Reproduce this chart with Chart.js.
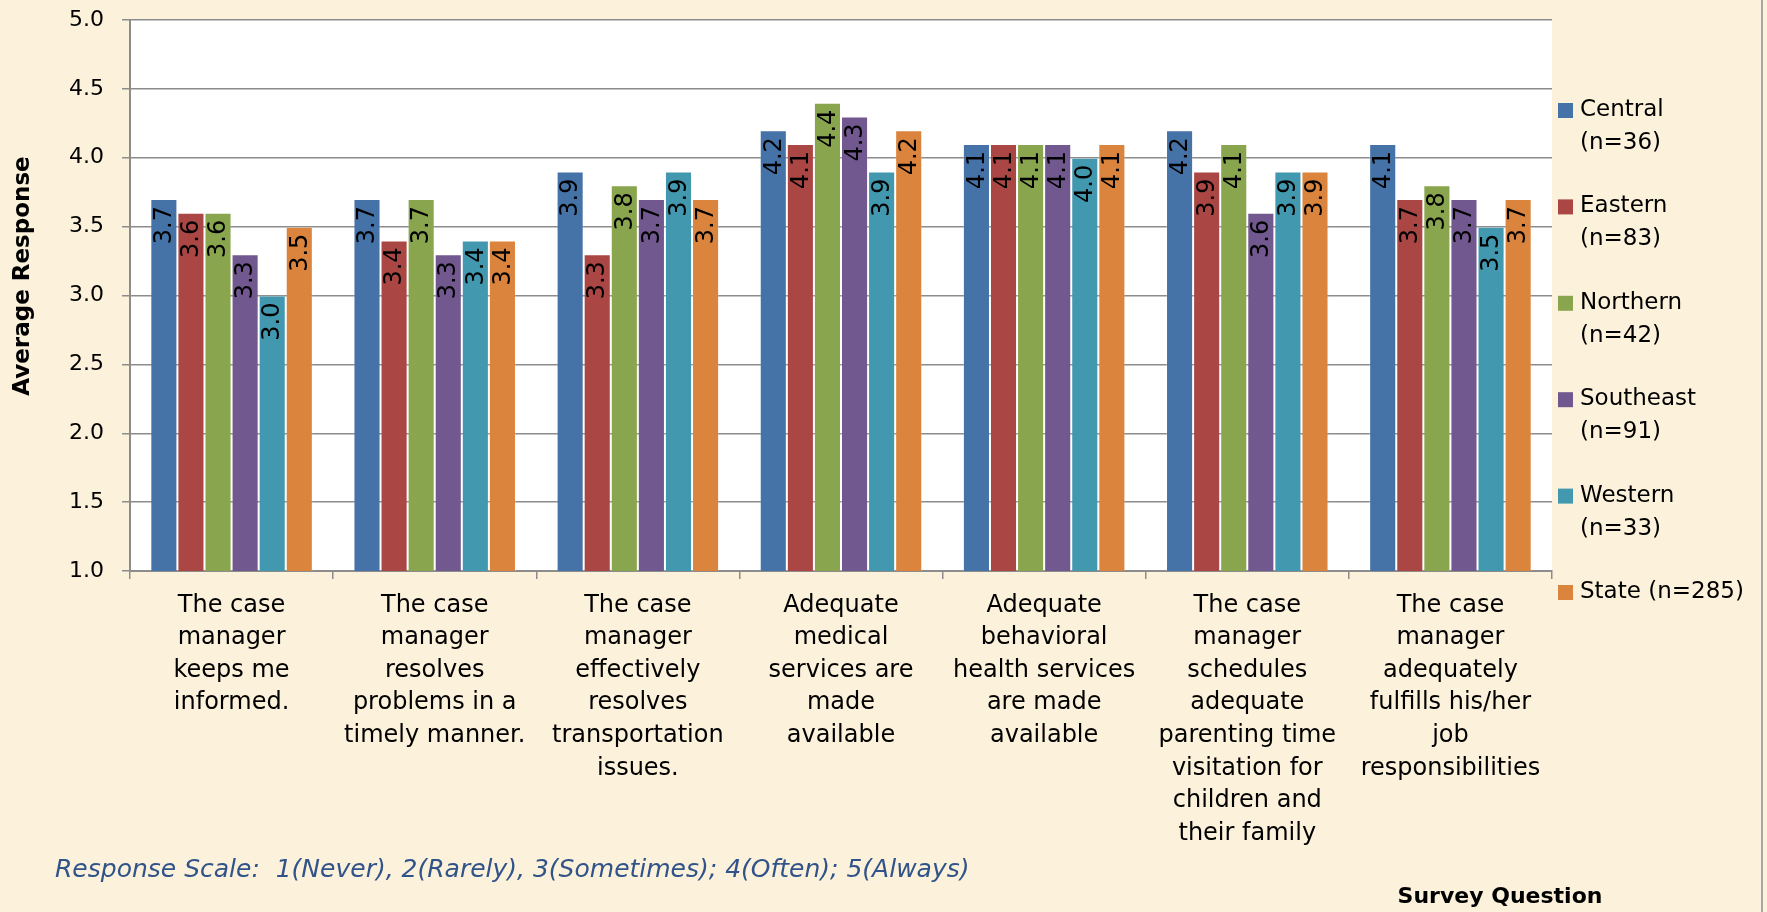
<!DOCTYPE html>
<html>
<head>
<meta charset="utf-8">
<title>Case Manager Survey - Average Response by Region</title>
<script src="https://cdn.jsdelivr.net/npm/chart.js@4.4.1/dist/chart.umd.min.js"></script>
<style>
    html, body { margin: 0; padding: 0; background: #fcf1da; }
    #wrap { width: 1767px; height: 912px; }
</style>
</head>
<body>
<div id="wrap"><canvas id="surveyChart" width="1767" height="912"></canvas></div>
<script>
// Survey questions (x axis categories, wrapped the way the original shows them)
const questions = [
    ['The case', 'manager', 'keeps me', 'informed.'],
    ['The case', 'manager', 'resolves', 'problems in a', 'timely manner.'],
    ['The case', 'manager', 'effectively', 'resolves', 'transportation', 'issues.'],
    ['Adequate', 'medical', 'services are', 'made', 'available'],
    ['Adequate', 'behavioral', 'health services', 'are made', 'available'],
    ['The case', 'manager', 'schedules', 'adequate', 'parenting time', 'visitation for', 'children and', 'their family'],
    ['The case', 'manager', 'adequately', 'fulfills his/her', 'job', 'responsibilities']
];

const regions = ['Central (n=36)', 'Eastern (n=83)', 'Northern (n=42)', 'Southeast (n=91)', 'Western (n=33)', 'State (n=285)'];
const legendLines = [
    ['Central', '(n=36)'],
    ['Eastern', '(n=83)'],
    ['Northern', '(n=42)'],
    ['Southeast', '(n=91)'],
    ['Western', '(n=33)'],
    ['State (n=285)']
];
const regionColors = ['#4572a7', '#aa4643', '#89a54e', '#71588f', '#4198af', '#db843d'];

// Average response per question
const central   = [3.7, 3.7, 3.9, 4.2, 4.1, 4.2, 4.1];
const eastern   = [3.6, 3.4, 3.3, 4.1, 4.1, 3.9, 3.7];
const northern  = [3.6, 3.7, 3.8, 4.4, 4.1, 4.1, 3.8];
const southeast = [3.3, 3.3, 3.7, 4.3, 4.1, 3.6, 3.7];
const western   = [3.0, 3.4, 3.9, 3.9, 4.0, 3.9, 3.5];
const state     = [3.5, 3.4, 3.7, 4.2, 4.1, 3.9, 3.7];
const seriesValues = [central, eastern, northern, southeast, western, state];

const scaleNote = 'Response Scale:  1(Never), 2(Rarely), 3(Sometimes); 4(Often); 5(Always)';
const xTitle = 'Survey Question';
const yTitle = 'Average Response';

const FONT = "'DejaVu Sans', sans-serif";

/**
 * Cream page with a white plot area
 */
const backdrop = {
    id: 'backdrop',
    beforeDraw(chart) {
        const { ctx, chartArea: a, width, height } = chart;
        ctx.save();
        ctx.fillStyle = '#fcf1da';
        ctx.fillRect(0, 0, width, height);
        ctx.fillStyle = '#ffffff';
        ctx.fillRect(a.left, a.top, a.right - a.left, a.bottom - a.top);
        ctx.restore();
    }
};

/**
 * Rotated value labels just inside the top of each bar
 */
const valueLabels = {
    id: 'valueLabels',
    afterDatasetsDraw(chart) {
        const ctx = chart.ctx;
        ctx.save();
        ctx.font = `24px ${FONT}`;
        ctx.fillStyle = '#000';
        ctx.textAlign = 'right';
        ctx.textBaseline = 'middle';
        chart.data.datasets.forEach((ds, i) => {
            chart.getDatasetMeta(i).data.forEach((bar, j) => {
                ctx.save();
                ctx.translate(bar.x, bar.y + 7);
                ctx.rotate(-Math.PI / 2);
                ctx.fillText(ds.data[j].toFixed(1), 0, 1);
                ctx.restore();
            });
        });
        ctx.restore();
    }
};

/**
 * Legend on the right, axis titles, note at the bottom, frame edge
 */
const extras = {
    id: 'extras',
    afterDraw(chart) {
        const ctx = chart.ctx;
        ctx.save();

        // legend
        ctx.font = `23px ${FONT}`;
        ctx.textAlign = 'left';
        ctx.textBaseline = 'middle';
        legendLines.forEach((lines, i) => {
            const y = 110 + i * 96.4;
            ctx.fillStyle = regionColors[i];
            ctx.fillRect(1558, y - 7, 15, 15);
            ctx.fillStyle = '#000';
            lines.forEach((t, k) => ctx.fillText(t, 1580, y + k * 33));
        });

        // y axis title
        ctx.save();
        ctx.font = `bold 23px ${FONT}`;
        ctx.textAlign = 'center';
        ctx.translate(23, 276);
        ctx.rotate(-Math.PI / 2);
        ctx.fillText(yTitle, 0, 0);
        ctx.restore();

        // response scale note
        ctx.font = `italic 25px ${FONT}`;
        ctx.fillStyle = '#30538a';
        ctx.textAlign = 'left';
        ctx.fillText(scaleNote, 55, 870);

        // x axis title
        ctx.font = `bold 22px ${FONT}`;
        ctx.fillStyle = '#000';
        ctx.textAlign = 'center';
        ctx.fillText(xTitle, 1500, 897);

        // right frame edge
        ctx.strokeStyle = '#a6a6a6';
        ctx.lineWidth = 2;
        ctx.beginPath();
        ctx.moveTo(1762, 0);
        ctx.lineTo(1762, chart.height);
        ctx.stroke();

        ctx.restore();
    }
};

Chart.defaults.font.family = FONT;
Chart.defaults.color = '#000';

new Chart(document.getElementById('surveyChart'), {
    type: 'bar',
    data: {
        labels: questions,
        datasets: seriesValues.map((vals, i) => ({
            label: regions[i],
            data: vals,
            backgroundColor: regionColors[i],
            borderColor: 'rgba(255,255,255,0.2)',
            borderWidth: 1,
            categoryPercentage: 0.8,
            barPercentage: 1.0
        }))
    },
    options: {
        responsive: false,
        animation: false,
        devicePixelRatio: 1,
        layout: {
            padding: { top: 20, right: 215, bottom: 0, left: 0 }
        },
        plugins: {
            legend: { display: false },
            tooltip: { enabled: false }
        },
        scales: {
            x: {
                grid: {
                    drawOnChartArea: false,
                    drawTicks: true,
                    tickLength: 8,
                    color: '#8c8c8c',
                    lineWidth: 1.5
                },
                border: { color: '#8c8c8c', width: 2 },
                ticks: {
                    autoSkip: false,
                    maxRotation: 0,
                    minRotation: 0,
                    padding: 10,
                    font: { size: 24, lineHeight: '32.6px' }
                },
                afterFit(scale) {
                    scale.height = 912 - 571;
                }
            },
            y: {
                min: 1,
                max: 5,
                grid: {
                    color: '#8c8c8c',
                    lineWidth: 1.5,
                    tickLength: 8
                },
                border: { color: '#8c8c8c', width: 2 },
                ticks: {
                    stepSize: 0.5,
                    padding: 18,
                    font: { size: 22 },
                    callback: (v) => v.toFixed(1)
                },
                afterFit(scale) {
                    // fixed axis width; don't let label padding push the plot down
                    scale.width = 130;
                    scale.paddingTop = 0;
                    scale.paddingBottom = 0;
                }
            }
        }
    },
    plugins: [backdrop, valueLabels, extras]
});
</script>
</body>
</html>
